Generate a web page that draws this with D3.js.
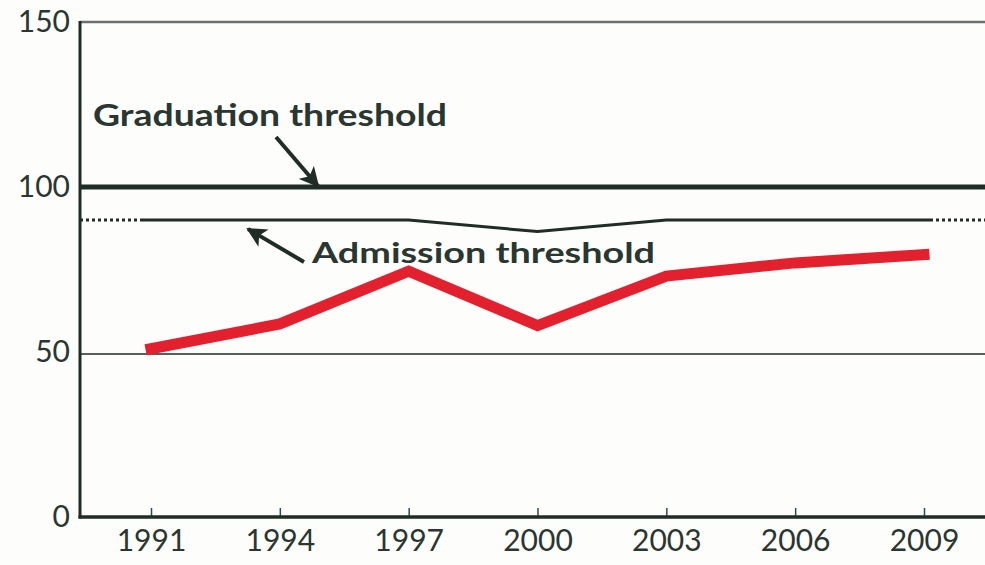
<!DOCTYPE html>
<html>
<head>
<meta charset="utf-8">
<script src="https://cdn.jsdelivr.net/npm/d3@7"></script>
<style>
  html, body { margin: 0; padding: 0; background: #fdfdfb; }
  svg text { font-family: Lato, "Open Sans", sans-serif; fill: #2a3630; }
</style>
</head>
<body>
<div id="chart"></div>
<script>
// data
const years = [1991, 1994, 1997, 2000, 2003, 2006, 2009];
const scores = [51, 58.5, 74.5, 58, 73, 77, 79.5];
const admission = [90, 90, 90, 86.5, 90, 90, 90];
const graduation = 100;
const yTicks = [0, 50, 100, 150];

const width = 985, height = 565;
const ink = '#1f2d26';

const svg = d3.select('#chart').append('svg')
  .attr('width', width)
  .attr('height', height);

const x = d3.scaleLinear().domain([1991, 2009]).range([151, 924]);
const y = d3.scaleLinear().domain([0, 150]).range([517, 22]);
const left = 80, right = width;

// arrow head
svg.append('defs').append('marker')
  .attr('id', 'arrow')
  .attr('viewBox', '0 0 10 10')
  .attr('refX', 9).attr('refY', 5)
  .attr('markerWidth', 5).attr('markerHeight', 5)
  .attr('orient', 'auto')
  .append('path')
  .attr('d', 'M0,0 L10,5 L0,10 L2.5,5 Z')
  .style('fill', ink);

// top border and grid lines
svg.append('line')
  .attr('x1', left).attr('x2', right)
  .attr('y1', y(150)).attr('y2', y(150))
  .style('stroke', '#6b6f72').style('stroke-width', 2.5);

svg.append('line')
  .attr('x1', left).attr('x2', right)
  .attr('y1', y(50) + 2).attr('y2', y(50) + 2)
  .style('stroke', ink).style('stroke-width', 1.5);

svg.append('line')
  .attr('x1', left).attr('x2', right)
  .attr('y1', y(graduation)).attr('y2', y(graduation))
  .style('stroke', ink).style('stroke-width', 5);

// admission threshold: dotted ends, solid middle
const line = d3.line().x(d => x(d[0])).y(d => y(d[1]));
const adm = years.map((yr, i) => [yr, admission[i]]);
const first = x(years[0]) - 8, last = x(years[years.length - 1]) + 6;

svg.append('line')
  .attr('x1', first).attr('x2', x(years[0]))
  .attr('y1', y(admission[0])).attr('y2', y(admission[0]))
  .style('stroke', ink).style('stroke-width', 3);

svg.append('path')
  .datum(adm)
  .attr('d', line)
  .style('fill', 'none')
  .style('stroke', ink)
  .style('stroke-width', 3);

svg.append('line')
  .attr('x1', x(years[years.length - 1])).attr('x2', last)
  .attr('y1', y(admission[admission.length - 1])).attr('y2', y(admission[admission.length - 1]))
  .style('stroke', ink).style('stroke-width', 3);

svg.append('line')
  .attr('x1', left).attr('x2', first)
  .attr('y1', y(admission[0])).attr('y2', y(admission[0]))
  .style('stroke', ink).style('stroke-width', 3)
  .style('stroke-dasharray', '3,3');

svg.append('line')
  .attr('x1', last).attr('x2', right)
  .attr('y1', y(admission[admission.length - 1])).attr('y2', y(admission[admission.length - 1]))
  .style('stroke', ink).style('stroke-width', 3)
  .style('stroke-dasharray', '3,3');

// scores
svg.append('path')
  .datum(years.map((yr, i) => [yr, scores[i]]))
  .attr('d', line)
  .style('fill', 'none')
  .style('stroke', '#e3202e')
  .style('stroke-width', 11)
  .style('stroke-linejoin', 'miter')
  .style('stroke-linecap', 'square');

// axes
const xAxis = d3.axisBottom(x)
  .tickValues(years)
  .tickFormat(d3.format('d'))
  .tickSizeInner(-9)
  .tickSizeOuter(0)
  .tickPadding(13);

const gx = svg.append('g')
  .attr('transform', 'translate(0,' + y(0) + ')')
  .call(xAxis);
gx.select('.domain').remove();
gx.selectAll('.tick line').style('stroke', '#2f4a55').style('stroke-width', 1.5);
gx.selectAll('text').style('font-size', '30px');

svg.append('line')
  .attr('x1', left - 1.5).attr('x2', right)
  .attr('y1', y(0)).attr('y2', y(0))
  .style('stroke', ink).style('stroke-width', 3.5);

const yAxis = d3.axisLeft(y)
  .tickValues(yTicks)
  .tickSize(0)
  .tickPadding(10);

const gy = svg.append('g')
  .attr('transform', 'translate(' + left + ',0)')
  .call(yAxis);
gy.select('.domain').remove();
gy.selectAll('text').style('font-size', '30px');

svg.append('line')
  .attr('x1', left).attr('x2', left)
  .attr('y1', y(150) - 1).attr('y2', y(0) + 1.5)
  .style('stroke', ink).style('stroke-width', 3);

// annotations
svg.append('text')
  .attr('x', 93).attr('y', 126)
  .attr('textLength', 354)
  .attr('lengthAdjust', 'spacingAndGlyphs')
  .style('font-size', '30px')
  .style('font-weight', 'bold')
  .text('Graduation threshold');

svg.append('line')
  .attr('x1', 276).attr('y1', 137)
  .attr('x2', 318).attr('y2', y(graduation) - 1)
  .style('stroke', ink).style('stroke-width', 4)
  .attr('marker-end', 'url(#arrow)');

svg.append('text')
  .attr('x', 312).attr('y', 263)
  .attr('textLength', 343)
  .attr('lengthAdjust', 'spacingAndGlyphs')
  .style('font-size', '29px')
  .style('font-weight', 'bold')
  .text('Admission threshold');

svg.append('line')
  .attr('x1', 304).attr('y1', 262)
  .attr('x2', 248).attr('y2', 229)
  .style('stroke', ink).style('stroke-width', 4)
  .attr('marker-end', 'url(#arrow)');
</script>
</body>
</html>
